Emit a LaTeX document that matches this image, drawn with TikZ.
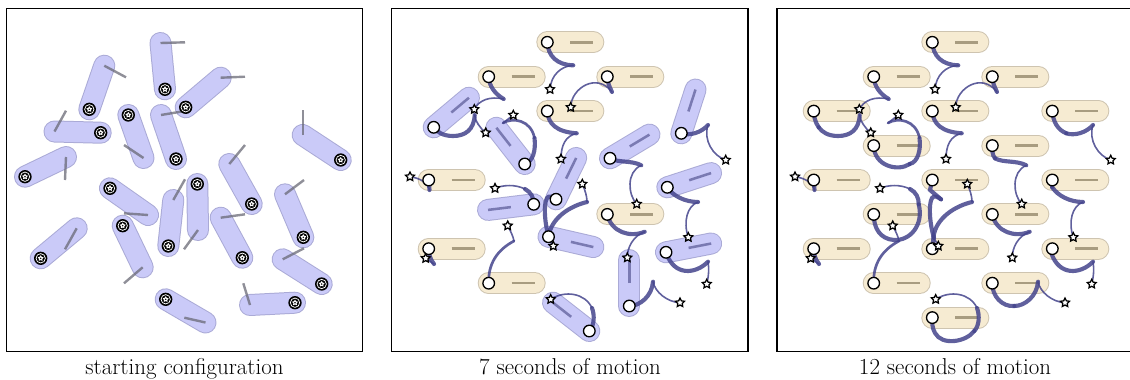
\documentclass[tikz,border=0pt]{standalone}
\usetikzlibrary{shapes.geometric}
\definecolor{bfill}{RGB}{202,202,248}
\definecolor{bbord}{RGB}{170,170,214}
\definecolor{bhead}{RGB}{122,122,178}
\definecolor{yfill}{RGB}{246,235,210}
\definecolor{ybord}{RGB}{206,196,176}
\definecolor{yhead}{RGB}{168,156,128}
\definecolor{traj}{RGB}{68,68,140}
\definecolor{hgray}{RGB}{105,105,118}
\tikzset{
  trthin/.style={draw=traj, opacity=0.85, line width=1.2pt, line cap=round},
  trmid/.style={draw=traj, opacity=0.85, line width=2pt, line cap=round},
  trthick/.style={draw=traj, opacity=0.85, line width=3.1pt, line cap=round},
  startstar/.style={star, star points=5, star point ratio=2, draw=black, fill=white, line width=0.95pt, inner sep=0pt, minimum size=7pt},
  frame/.style={draw=black, line width=1pt},
  caption/.style={font=\fontsize{17.2}{20}\selectfont, anchor=base},
  headline/.style={hgray, opacity=0.75, line width=1.8pt},
}
% panel-1 capsule from ball B to far end F
\newcommand\pcap[4]{%
  \draw[bbord, line width=16.5pt, line cap=round] (#1,#2) -- (#3,#4);
  \draw[bfill, line width=15pt, line cap=round] (#1,#2) -- (#3,#4);}
\newcommand\sball[2]{%
  \fill[black] (#1,#2) circle (5pt);
  \draw[white, line width=0.55pt] (#1,#2) circle (3.5pt);
  \node[star, star points=5, star point ratio=1.7, fill=white, inner sep=0pt, minimum size=4.6pt] at (#1,#2) {};
  \fill[black] (#1,#2) circle (0.6pt);}
\newcommand\bluecap[3]{%
  \draw[bbord, line width=16.5pt, line cap=round] (#1,#2) -- ++(#3:46);
  \draw[bfill, line width=15pt, line cap=round] (#1,#2) -- ++(#3:46);
  \draw[bhead, line width=1.9pt] (#1,#2) ++(#3:23) -- ++(#3:23);}
\newcommand\beigecap[2]{%
  \draw[ybord, line width=16.5pt, line cap=round] (#1,#2) -- ++(46,0);
  \draw[yfill, line width=15pt, line cap=round] (#1,#2) -- ++(46,0);
  \draw[yhead, line width=1.9pt] (#1,#2) ++(23,0) -- ++(23,0);}
\newcommand\rdot[2]{\draw[black, fill=white, line width=1pt] (#1,#2) circle (4.35pt);}
\newcommand\sstar[2]{\node[startstar] at (#1,#2) {};}
\newcommand\allstars{%
  \sstar{89.3}{109.3}\sstar{165}{89.3}\sstar{185.7}{107.3}\sstar{100.7}{132.7}
  \sstar{128.3}{115}\sstar{176}{159}\sstar{340.7}{160}\sstar{25}{176.7}
  \sstar{110}{188.3}\sstar{197.3}{184}\sstar{251.7}{204}\sstar{168.3}{246}
  \sstar{122.7}{225.7}\sstar{303.3}{237.3}\sstar{40.7}{258.3}\sstar{242.3}{257.7}
  \sstar{321.7}{284}\sstar{165.7}{299.3}\sstar{295}{302.7}}
\newcommand\trajcommon{%
  % R1
  \draw[trthin] (89.3,109.3) .. controls (94,100) and (105,96) .. (118.7,99);
  \draw[trthick] (118.7,99) .. controls (110,94) and (104,86) .. (103.7,76.7);
  % R2
  \draw[trthin] (165,89.3) .. controls (166,75) and (176,66) .. (188.3,65.3);
  \draw[trthick] (188.3,65.3) .. controls (172,65) and (163,56) .. (162.3,42.3);
  % R3
  \draw[trthin] (185.7,107.3) .. controls (186,88) and (212,72) .. (227,92);
  \draw[trthick] (227,92) .. controls (224,86) and (222.5,82) .. (222.3,76.7);
  % R4
  \draw[trthin] (100.7,132.7) .. controls (95,128) and (90,121) .. (89.7,115);
  \draw[trthick] (89.7,115) .. controls (89,130) and (80,136) .. (68,136) .. controls (58,136) and (52,132) .. (48.7,127.3);
  % R5
  \draw[trthin] (128.3,115) -- (118,123);
  \draw[trmid] (118,123) .. controls (128,117) and (146,120) .. (149.5,138);
  \draw[trthick] (149.5,138) .. controls (151,150) and (148,162) .. (139.7,164);
  % R6
  \draw[trthin] (176,159) .. controls (176,146) and (180,136) .. (191.7,133.3);
  \draw[trthick] (191.7,133.3) .. controls (172,132) and (163,124) .. (162.3,111.3);
  % R7
  \draw[trthin] (340.7,160) .. controls (328,156) and (318,140) .. (323,125);
  \draw[trthick] (323,125) .. controls (316,133) and (304,136) .. (296.3,133.3);
  % R8
  \draw[trthin] (25,176.7) .. controls (35,178) and (43,183) .. (44.5,190);
  \draw[trthick] (44.5,190) -- (43.7,180);
  % R9
  \draw[trthin] (110,188.3) .. controls (118,185) and (130,184) .. (140,189);
  \draw[trthick] (140,189) .. controls (146,192) and (149,198) .. (148.7,204.3);
  % R10
  \draw[trthin] (197.3,184) .. controls (200,190) and (202,196) .. (202,202);
  \draw[trthick] (202,202) .. controls (185,206) and (166,218) .. (163.5,236.7);
  % R11
  \draw[trthin] (251.7,204) .. controls (243,195) and (241,172) .. (256.3,165.3);
  \draw[trthick] (256.3,165.3) .. controls (246,160) and (233,163) .. (225,158.3);
  % R12
  \draw[trthin] (168.3,246) -- (164,238);
  \draw[trthick] (164,238) .. controls (160,225) and (158,205) .. (162,198) .. controls (164,195) and (168,197) .. (171,199.3);
  % R13
  \draw[trthin] (122.7,225.7) .. controls (126,232) and (128,236) .. (129,241);
  \draw[trmid] (129,241) .. controls (112,250) and (103,264) .. (103.7,283.2);
  % R14
  \draw[trthin] (303.3,237.3) .. controls (298,222) and (302,206) .. (313,202);
  \draw[trthick] (313,202) .. controls (300,202) and (288,196) .. (282.3,187.3);
  % R15
  \draw[trthin] (40.7,258.3) -- (49,264);
  \draw[trthick] (49,264) .. controls (45,259) and (43.7,254) .. (43.7,248.7);
  % R16
  \draw[trthin] (242.3,257.7) .. controls (242,248) and (248,236) .. (259.7,231.7);
  \draw[trthick] (259.7,231.7) .. controls (245,238) and (226,232) .. (222.3,214.4);
  % R17
  \draw[trthin] (321.7,284) .. controls (324,275) and (324,268) .. (323,261.7);
  \draw[trthick] (323,261.7) .. controls (311,274) and (289,277) .. (281,252.3);
  % R18
  \draw[trthin] (165.7,299.3) .. controls (180,290) and (200,293) .. (207,308);
  \draw[trthick] (207,308) .. controls (210,316) and (209,326) .. (204.3,331);
  % R19
  \draw[trthin] (295,302.7) .. controls (282,302) and (270,292) .. (268,281.7);
  \draw[trthick] (268,281.7) .. controls (267,296) and (255,306) .. (244.3,306);
}
\newcommand\trajext{%
  \draw[trthick] (48.7,127.3) .. controls (45,122) and (43.7,116) .. (43.7,111.1);
  \draw[trthick] (139.7,164) .. controls (128,172) and (104,166) .. (103.7,145.6);
  \draw[trthick] (296.3,133.3) .. controls (288,130) and (283,122) .. (282.3,111.1);
  \draw[trthick] (148.7,204.3) .. controls (154,225) and (140,241) .. (124,240) .. controls (110,239) and (103.7,228) .. (103.7,214.4);
  \draw[trthick] (163.5,236.7) -- (162.3,248.7);
  \draw[trthick] (225,158.3) .. controls (222,155) and (222.3,150) .. (222.3,145.6);
  \draw[trthick] (171,199.3) -- (160,190) -- (162.3,180);
  \draw[trthick] (282.3,187.3) -- (282.3,180);
  \draw[trthick] (281,252.3) -- (282.3,248.7);
  \draw[trthick] (204.3,331) .. controls (196,342) and (172,346) .. (165,333) .. controls (162,328) and (162,322) .. (162.3,317.6);
  \draw[trthick] (244.3,306) .. controls (232,307) and (222,296) .. (222.3,283.2);
}
\begin{document}
\begin{tikzpicture}[x=0.75pt, y=-0.75pt]
\useasboundingbox (0,0) rectangle (1130,379);
\clip (0,0) rectangle (1130,379);
% ================= panel 1 =================
\pcap{89.3}{109.3}{104.3}{65.7}
\pcap{165}{89.3}{160.5}{43}
\pcap{128.3}{115}{143.5}{158}
\pcap{176}{159}{161}{115}
\pcap{185.7}{107.3}{220.7}{77.7}
\pcap{100.7}{132.7}{54.5}{131.5}
\pcap{340.7}{160}{302.7}{135}
\pcap{25}{176.7}{66}{157}
\pcap{110}{188.3}{148}{215}
\pcap{197.3}{184}{198}{230}
\pcap{251.7}{204}{229.3}{164}
\pcap{168.3}{246}{173.3}{200}
\pcap{122.7}{225.7}{142.7}{267.3}
\pcap{303.3}{237.3}{285}{194.3}
\pcap{40.7}{258.3}{76.7}{228.3}
\pcap{242.3}{257.7}{220.7}{217.7}
\pcap{321.7}{284}{282.7}{259.3}
\pcap{165.7}{299.3}{205.5}{322.5}
\pcap{295}{302.7}{250}{305}
\draw[headline] (104.3,65.7) -- (126,77.3);
\draw[headline] (160.5,43) -- (185,42.3);
\draw[headline] (220.7,77.7) -- (245,76.7);
\draw[headline] (54.5,131.5) -- (66,110.7);
\draw[headline] (143.5,158) -- (124,145);
\draw[headline] (161,115) -- (182,111.5);
\draw[headline] (302.7,135) -- (302.7,110);
\draw[headline] (66,157) -- (65,180);
\draw[headline] (148,215) -- (124,213.3);
\draw[headline] (198,230) -- (184,249.3);
\draw[headline] (229.3,164) -- (245,145);
\draw[headline] (173.3,200) -- (185,179.3);
\draw[headline] (142.7,267.3) -- (124,283.3);
\draw[headline] (285,194.3) -- (304,180);
\draw[headline] (76.7,228.3) -- (65,249.3);
\draw[headline] (220.7,217.7) -- (245,214.3);
\draw[headline] (282.7,259.3) -- (304,248.3);
\draw[headline] (205.5,322.5) -- (184.3,317.7);
\draw[headline] (250,305) -- (243.3,283.3);
\sball{89.3}{109.3}\sball{165}{89.3}\sball{185.7}{107.3}\sball{100.7}{132.7}
\sball{128.3}{115}\sball{176}{159}\sball{340.7}{160}\sball{25}{176.7}
\sball{110}{188.3}\sball{197.3}{184}\sball{251.7}{204}\sball{168.3}{246}
\sball{122.7}{225.7}\sball{303.3}{237.3}\sball{40.7}{258.3}\sball{242.3}{257.7}
\sball{321.7}{284}\sball{165.7}{299.3}\sball{295}{302.7}
\draw[frame] (6.5,8.3) rectangle (362.7,351.7);
\node[caption] at (184.5,374) {starting configuration};
% ================= panel 2 =================
\begin{scope}[shift={(385,0)}]
\beigecap{162.3}{42.3}\beigecap{103.7}{76.7}\beigecap{222.3}{76.7}\beigecap{162.3}{111.1}
\beigecap{43.7}{180}\beigecap{222.3}{214.4}\beigecap{43.7}{248.7}\beigecap{103.7}{283.2}
\bluecap{48.7}{127.3}{-40}
\bluecap{139.7}{164}{-128}
\bluecap{296.3}{133.3}{-72}
\bluecap{225}{158.3}{-31}
\bluecap{171}{199.3}{-64}
\bluecap{148.7}{204.3}{173}
\bluecap{163.5}{236.7}{13}
\bluecap{282.3}{187.3}{-18}
\bluecap{281}{252.3}{-11}
\bluecap{244.3}{306}{-90}
\bluecap{204.3}{331}{-142}
\trajcommon
\rdot{162.3}{42.3}\rdot{103.7}{76.7}\rdot{222.3}{76.7}\rdot{162.3}{111.1}
\rdot{43.7}{180}\rdot{222.3}{214.4}\rdot{43.7}{248.7}\rdot{103.7}{283.2}
\rdot{48.7}{127.3}\rdot{139.7}{164}\rdot{296.3}{133.3}\rdot{225}{158.3}
\rdot{171}{199.3}\rdot{148.7}{204.3}\rdot{163.5}{236.7}\rdot{282.3}{187.3}
\rdot{281}{252.3}\rdot{244.3}{306}\rdot{204.3}{331}
\allstars
\draw[frame] (6.5,8.3) rectangle (363,351.7);
\node[caption] at (185,374) {7 seconds of motion};
\end{scope}
% ================= panel 3 =================
\begin{scope}[shift={(770,0)}]
\beigecap{162.3}{42.3}
\beigecap{103.7}{76.7}\beigecap{222.3}{76.7}
\beigecap{43.7}{111.1}\beigecap{162.3}{111.1}\beigecap{282.3}{111.1}
\beigecap{103.7}{145.6}\beigecap{222.3}{145.6}
\beigecap{43.7}{180}\beigecap{162.3}{180}\beigecap{282.3}{180}
\beigecap{103.7}{214.4}\beigecap{222.3}{214.4}
\beigecap{43.7}{248.7}\beigecap{162.3}{248.7}\beigecap{282.3}{248.7}
\beigecap{103.7}{283.2}\beigecap{222.3}{283.2}
\beigecap{162.3}{317.6}
\trajcommon
\trajext
\rdot{162.3}{42.3}
\rdot{103.7}{76.7}\rdot{222.3}{76.7}
\rdot{43.7}{111.1}\rdot{162.3}{111.1}\rdot{282.3}{111.1}
\rdot{103.7}{145.6}\rdot{222.3}{145.6}
\rdot{43.7}{180}\rdot{162.3}{180}\rdot{282.3}{180}
\rdot{103.7}{214.4}\rdot{222.3}{214.4}
\rdot{43.7}{248.7}\rdot{162.3}{248.7}\rdot{282.3}{248.7}
\rdot{103.7}{283.2}\rdot{222.3}{283.2}
\rdot{162.3}{317.6}
\allstars
\draw[frame] (7,8.3) rectangle (363,351.7);
\node[caption] at (185,374) {12 seconds of motion};
\end{scope}
\end{tikzpicture}
\end{document}
